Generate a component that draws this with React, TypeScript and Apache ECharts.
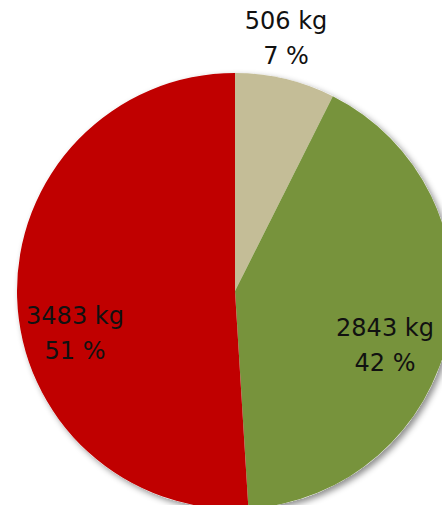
import React, { useEffect, useRef } from "react";
import * as echarts from "echarts";

const categories = ["Beige", "Green", "Red"];
const weightsKg = [506, 2843, 3483];
const sliceColors = ["#C4BD97", "#77933C", "#C00000"];

// label anchor points (layout only)
const labelPositions: [number, number][] = [
  [286, 38],
  [385, 345],
  [75, 333],
];

export default function App() {
  const ref = useRef<HTMLDivElement>(null);
  useEffect(() => {
    if (!ref.current) return;
    const chart = echarts.init(ref.current, null, { renderer: "svg" });
    const total = weightsKg.reduce((a, b) => a + b, 0);
    chart.setOption({
      animation: false,
      backgroundColor: "#ffffff",
      series: [
        {
          type: "pie",
          silent: true,
          center: [235, 291],
          radius: 218,
          label: { show: false },
          labelLine: { show: false },
          itemStyle: {
            color: "#ffffff",
            shadowBlur: 6,
            shadowOffsetX: 3,
            shadowOffsetY: 3,
            shadowColor: "rgba(0,0,0,0.45)",
          },
          data: [{ value: total, name: "bg" }],
          z: 1,
        },
        {
          type: "pie",
          center: [235, 291],
          radius: 218,
          startAngle: 90,
          clockwise: true,
          percentPrecision: 0,
          z: 2,
          data: categories.map((name, i) => ({
            name,
            value: weightsKg[i],
            itemStyle: { color: sliceColors[i] },
          })),
          label: {
            show: true,
            position: "inside",
            formatter: "{c} kg\n{d} %",
            fontFamily: "DejaVu Sans",
            fontSize: 24,
            lineHeight: 35,
            color: "#111111",
            align: "center",
          },
          labelLine: { show: false },
          labelLayout: (params: any) => {
            const p = labelPositions[params.dataIndex];
            return {
              x: p[0],
              y: p[1],
              align: "center",
              verticalAlign: "middle",
            };
          },
          emphasis: { disabled: true },
        },
      ],
    });
    return () => chart.dispose();
  }, []);
  return (
    <div
      ref={ref}
      style={{ position: "absolute", left: 0, top: 0, width: 442, height: 505 }}
    />
  );
}
